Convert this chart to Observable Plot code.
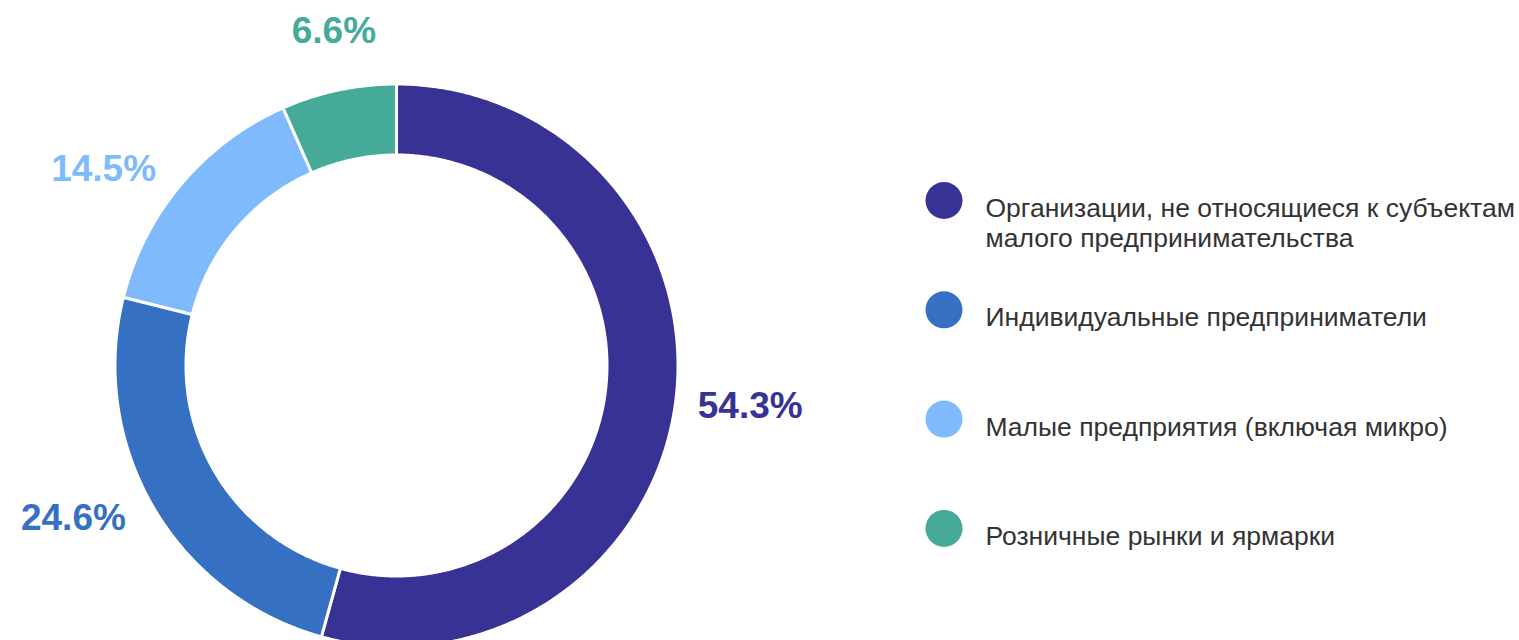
<!DOCTYPE html>
<html>
<head>
<meta charset="utf-8">
<script src="https://cdn.jsdelivr.net/npm/d3@7"></script>
<script src="https://cdn.jsdelivr.net/npm/@observablehq/plot@0.6"></script>
<style>
  html, body { margin: 0; padding: 0; background: #fff; }
  #chart svg { display: block; }
</style>
</head>
<body>
<div id="chart"></div>
<script>
const categories = [
  "Организации, не относящиеся к субъектам\nмалого предпринимательства",
  "Индивидуальные предприниматели",
  "Малые предприятия (включая микро)",
  "Розничные рынки и ярмарки"
];
const values = [54.3, 24.6, 14.5, 6.6];
const colors = ["#373294", "#3670C2", "#7FBBFC", "#45AA98"];
const valueLabels = values.map(v => v.toFixed(1) + "%");

const W = 1519, H = 640;
const cx = 396, cy = 365;
const R = 280, r = 212, gap = 3;
const labelR = 304;

const arcs = d3.pie().sort(null).value(d => d)(values);

// ring polygons (geometry derived from the pie angles)
const poly = [];
arcs.forEach((a, i) => {
  const n = Math.max(8, Math.ceil((a.endAngle - a.startAngle) * 120));
  const ro = R + gap / 2, ri = r - gap / 2;
  for (let k = 0; k <= n; k++) {
    const t = a.startAngle + (a.endAngle - a.startAngle) * k / n;
    poly.push({name: categories[i], x: cx + ro * Math.sin(t), y: cy - ro * Math.cos(t)});
  }
  for (let k = n; k >= 0; k--) {
    const t = a.startAngle + (a.endAngle - a.startAngle) * k / n;
    poly.push({name: categories[i], x: cx + ri * Math.sin(t), y: cy - ri * Math.cos(t)});
  }
});

const labelData = arcs.map((a, i) => {
  const m = (a.startAngle + a.endAngle) / 2;
  const s = Math.sin(m), c = Math.cos(m);
  const side = s > 0.3 ? "start" : s < -0.3 ? "end" : "middle";
  return {name: categories[i], text: valueLabels[i], x: cx + labelR * s, y: cy - labelR * c, side, top: side === "middle" && c > 0};
});

const legendData = categories.map((c, i) => ({name: c, i}));
const legX = 943.5, legTextX = 985, legY0 = 200, legStep = 109.3;
const legFont = 26.5;

const sideLabels = labelData.filter(d => !d.top);
const topLabels = labelData.filter(d => d.top);

const chart = Plot.plot({
  width: W,
  height: H,
  margin: 0,
  style: {fontFamily: "Arial, 'Liberation Sans', sans-serif", background: "#fff"},
  x: {domain: [0, W], range: [0, W], axis: null},
  y: {domain: [0, H], range: [0, H], axis: null},
  color: {domain: categories, range: colors},
  marks: [
    Plot.line(poly, {x: "x", y: "y", z: "name", fill: "name", stroke: "white", strokeWidth: gap, curve: "linear-closed"}),
    Plot.text(sideLabels.filter(d => d.side === "start"), {x: "x", y: "y", text: "text", fill: "name", fontSize: 37, fontWeight: "bold", textAnchor: "start"}),
    Plot.text(sideLabels.filter(d => d.side === "end"), {x: "x", y: "y", text: "text", fill: "name", fontSize: 37, fontWeight: "bold", textAnchor: "end", dx: -8}),
    Plot.text(topLabels, {x: "x", y: "y", text: "text", fill: "name", fontSize: 37, fontWeight: "bold", textAnchor: "middle", lineAnchor: "bottom", dy: -25}),
    Plot.dot(legendData, {x: () => legX, y: d => legY0 + d.i * legStep, r: 18.5, fill: "name", stroke: null}),
    Plot.text(legendData, {x: () => legTextX, y: d => legY0 + d.i * legStep, text: "name", fill: "#333", fontSize: legFont, textAnchor: "start", lineAnchor: "top", dy: 14 - 0.71 * legFont, lineHeight: 1.13})
  ]
});
document.getElementById("chart").append(chart);
</script>
</body>
</html>
